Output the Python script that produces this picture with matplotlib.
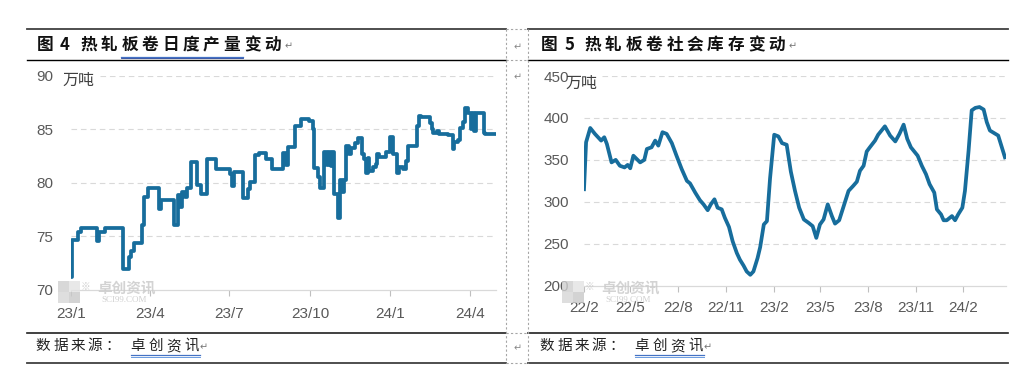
import matplotlib
matplotlib.use("Agg")
import matplotlib.pyplot as plt
from matplotlib.lines import Line2D
from matplotlib.patches import Rectangle
import pandas as pd

W, H = 1025, 392
CJK = ["Noto Sans CJK SC", "DejaVu Sans"]
LINE_COLOR = "#176d9c"
GRID_COLOR = "#d9d9d9"
TEXT_GRAY = "#595959"

# 图4: daily output (万吨), days counted from 2023-01-01
prod_start = "2023-01-01"
prod_day = [0, 1, 8, 11, 30, 32, 39, 59, 66, 69, 72, 81, 83, 88, 101, 103, 118, 122, 125, 127,
            130, 133, 137, 144, 149, 155, 166, 182, 184, 186, 196, 202, 205, 210, 215, 223, 230,
            242, 246, 248, 256, 263, 272, 276, 278, 282, 285, 289, 293, 295, 297, 299, 301, 305,
            307, 310, 312, 314, 318, 320, 324, 328, 333, 335, 337, 339, 341, 345, 349, 350, 352,
            360, 364, 368, 373, 375, 379, 383, 385, 395, 398, 400, 410, 412, 414, 418, 420, 431,
            437, 438, 442, 444, 448, 450, 454, 457, 459, 461, 463, 472, 473, 485]
prod_val = [71.2, 74.7, 75.4, 75.8, 74.6, 75.4, 75.8, 72.0, 73.1, 73.6, 74.4, 76.1, 78.7, 79.5,
            77.6, 78.4, 76.1, 78.9, 77.8, 79.2, 78.7, 79.5, 82.0, 79.8, 79.0, 82.2, 81.3, 80.8,
            79.7, 81.0, 78.6, 79.4, 80.1, 82.6, 82.8, 82.2, 81.3, 82.8, 81.7, 83.4, 85.3, 86.0,
            85.8, 85.0, 81.4, 80.6, 79.5, 82.9, 81.7, 82.9, 81.6, 82.9, 79.0, 76.7, 80.3, 79.2,
            80.3, 83.5, 82.7, 83.3, 83.7, 84.2, 82.7, 82.2, 80.9, 82.3, 81.1, 81.5, 81.8, 82.7,
            82.4, 82.9, 84.3, 82.7, 80.9, 81.5, 81.3, 82.1, 83.5, 85.3, 86.3, 86.2, 85.6, 85.0,
            84.7, 84.9, 84.6, 84.5, 83.2, 83.8, 84.0, 85.1, 85.7, 87.0, 86.5, 85.0, 86.5, 84.9,
            86.5, 84.7, 84.6, 84.6]
prod_ticks = ["2023-01-01", "2023-04-01", "2023-07-01", "2023-10-01", "2024-01-01", "2024-04-01"]
prod_tick_labels = ["23/1", "23/4", "23/7", "23/10", "24/1", "24/4"]
prod_yticks = [70, 75, 80, 85, 90]

# 图5: weekly social inventory (万吨), days counted from 2022-02-01
stock_start = "2022-02-01"
stock_day = [0, 4, 12, 21, 33, 39, 44, 53, 61, 69, 78, 84, 89, 95, 108, 116, 121, 130, 137, 143,
             151, 159, 169, 178, 188, 198, 204, 214, 223, 230, 238, 244, 251, 257, 265, 271, 279,
             286, 294, 300, 307, 313, 320, 326, 334, 339, 346, 352, 358, 366, 374, 381, 390, 398,
             406, 414, 423, 432, 440, 447, 454, 461, 469, 477, 483, 491, 509, 518, 525, 531, 538,
             544, 550, 560, 566, 579, 589, 599, 607, 615, 622, 629, 642, 650, 658, 665, 674, 679,
             687, 692, 698, 708, 714, 720, 728, 733, 740, 746, 753, 761, 769, 775, 781, 789, 797,
             804, 810]
stock_val = [315, 371, 388, 381, 373, 377, 369, 347, 350, 343, 341, 344, 340, 355, 347, 350, 363,
             365, 373, 367, 383, 381, 370, 355, 339, 325, 322, 311, 302, 297, 290, 297, 303, 293,
             291, 281, 270, 253, 239, 231, 224, 217, 213, 217, 233, 246, 273, 277, 328, 380, 378,
             370, 368, 336, 313, 293, 279, 275, 271, 257, 273, 279, 297, 283, 274, 278, 313, 319,
             324, 337, 343, 360, 365, 373, 380, 390, 379, 372, 381, 392, 375, 365, 355, 343, 333,
             321, 311, 291, 285, 278, 278, 283, 278, 285, 293, 313, 361, 409, 412, 413, 410, 395,
             385, 382, 379, 365, 353]
stock_ticks = ["2022-02-01", "2022-05-01", "2022-08-01", "2022-11-01", "2023-02-01",
               "2023-05-01", "2023-08-01", "2023-11-01", "2024-02-01"]
stock_tick_labels = ["22/2", "22/5", "22/8", "22/11", "23/2", "23/5", "23/8", "23/11", "24/2"]
stock_yticks = [200, 250, 300, 350, 400, 450]

titles = ["图 4 热轧板卷日度产量变动", "图 5 热轧板卷社会库存变动"]
source_label = "数据来源："
source_name = "卓创资讯"
unit_label = "万吨"


def fx(x):
    return x / W


def fy(y):
    return 1 - y / H


def hline(fig, y, x0, x1, color="black", lw=1.0, ls="-"):
    fig.add_artist(Line2D([fx(x0), fx(x1)], [fy(y), fy(y)], color=color, lw=lw, ls=ls))


def vline(fig, x, y0, y1, color="#a6a6a6", lw=0.8, ls=(0, (2, 2))):
    fig.add_artist(Line2D([fx(x), fx(x)], [fy(y0), fy(y1)], color=color, lw=lw, ls=ls))


def put_chars(fig, chars, xs, y, **kw):
    for ch, x in zip(chars, xs):
        fig.text(fx(x), fy(y), ch, ha="center", va="center", family=CJK, **kw)


def watermark(fig, dx):
    for (x0, y0, c) in [(58, 281, "#cfcfcf"), (69, 281, "#e3e3e3"), (58, 292, "#d6d6d6"), (69, 292, "#c9c9c9")]:
        fig.add_artist(Rectangle((fx(x0 + dx), fy(y0 + 11)), 11 / W, 11 / H,
                                 transform=fig.transFigure, color=c, lw=0, alpha=0.8))
    fig.text(fx(85 + dx), fy(287), "※", ha="center", va="center", family=CJK, fontsize=7, color="#d0d0d0")
    fig.text(fx(127 + dx), fy(288), "卓创资讯", ha="center", va="center", family=CJK,
             fontsize=10.5, fontweight="bold", color="#cccccc", alpha=0.85)
    fig.text(fx(124 + dx), fy(299.5), "SCI99.COM", ha="center", va="center",
             family="Liberation Serif", fontsize=6.5, color="#d0d0d0")


def setup_axes(ax, start, xmax_days, ticks, tick_labels, yticks, first_grid_from, ypad, xpad):
    base = pd.Timestamp(start)
    ax.set_xlim(base, base + pd.Timedelta(days=xmax_days))
    ax.set_ylim(yticks[0], yticks[-1])
    ax.set_yticks(yticks)
    ax.set_xticks(pd.to_datetime(ticks))
    ax.set_xticklabels(tick_labels)
    for v in yticks[1:]:
        xmin = first_grid_from if v == yticks[-1] else 0.0
        ax.axhline(v, xmin=xmin, xmax=1.0, color=GRID_COLOR, lw=0.8, ls=(0, (5, 3.5)), zorder=0.5)
    for side in ["left", "right", "top"]:
        ax.spines[side].set_visible(False)
    ax.spines["bottom"].set_color(GRID_COLOR)
    ax.spines["bottom"].set_linewidth(0.9)
    ax.tick_params(axis="y", length=0, labelcolor=TEXT_GRAY, labelsize=11, pad=ypad)
    ax.tick_params(axis="x", length=4, width=0.8, color="#bfbfbf", labelcolor=TEXT_GRAY,
                   labelsize=11, pad=xpad)
    for lab in ax.get_xticklabels() + ax.get_yticklabels():
        lab.set_family("Liberation Sans")


fig = plt.figure(figsize=(W / 100, H / 100), dpi=100)
fig.patch.set_facecolor("white")

# left chart
ax1 = fig.add_axes([fx(71), fy(290), (496 - 71) / W, (290 - 76) / H])
prod_dates = pd.Timestamp(prod_start) + pd.to_timedelta(prod_day, unit="D")
ax1.plot(prod_dates, prod_val, color=LINE_COLOR, lw=2.7, drawstyle="steps-post",
         solid_joinstyle="round", zorder=3)
setup_axes(ax1, prod_start, 485.7, prod_ticks, prod_tick_labels, prod_yticks, 0.068, 13, 8)

# right chart
ax2 = fig.add_axes([fx(584), fy(285.7), (1006 - 584) / W, (285.7 - 76) / H])
stock_dates = pd.Timestamp(stock_start) + pd.to_timedelta(stock_day, unit="D")
ax2.plot(stock_dates, stock_val, color=LINE_COLOR, lw=2.7, solid_joinstyle="round", zorder=3)
setup_axes(ax2, stock_start, 812, stock_ticks, stock_tick_labels, stock_yticks, 0.043, 11, 7)

# unit labels
fig.text(fx(78.5), fy(80), unit_label, ha="center", va="center", family=CJK, fontsize=11.5, color="#404040")
fig.text(fx(581), fy(83), unit_label, ha="center", va="center", family=CJK, fontsize=11.5, color="#404040")

# watermarks
watermark(fig, 0)
watermark(fig, 504)

# table rules
for x0, x1 in [(27, 506), (528, 1008)]:
    hline(fig, 29, x0, x1, color="#404040", lw=1.3)
    hline(fig, 59.5, x0, x1, color="black", lw=1.0)
    hline(fig, 332.5, x0, x1, color="#202020", lw=1.2)
    hline(fig, 362.5, x0, x1, color="#404040", lw=1.3)
for y in [29, 59.5, 332.5, 362.5]:
    hline(fig, y, 506, 528, color="#a6a6a6", lw=0.8, ls=(0, (2, 2)))
vline(fig, 506, 29, 363)
vline(fig, 528, 29, 363)

# titles and sources
for dx, title in zip([0, 504], titles):
    chars = title.replace(" ", "")
    xs = [45 + dx, 65 + dx] + [89 + dx + 20.4 * i for i in range(len(chars) - 2)]
    put_chars(fig, chars, xs, 45, fontsize=12, fontweight="bold", color="#111111")
    fig.text(fx(xs[-1] + 16), fy(46), "↵", ha="center", va="center", family=CJK, fontsize=7, color="#777777")

    sx = [43 + dx + 17.4 * i for i in range(len(source_label))]
    put_chars(fig, source_label, sx, 346, fontsize=10.5, color="#222222")
    nx = [137.8 + dx + 18 * i for i in range(len(source_name))]
    put_chars(fig, source_name, nx, 346, fontsize=10.5, color="#222222")
    fig.text(fx(nx[-1] + 12), fy(347), "↵", ha="center", va="center", family=CJK, fontsize=7, color="#777777")
    hline(fig, 355.3, nx[0] - 7, nx[-1] + 8, color="#4472c4", lw=0.9)
    hline(fig, 357.3, nx[0] - 7, nx[-1] + 8, color="#6a9be0", lw=0.7)

# spell-check style underline under part of the first title
hline(fig, 56.5, 121, 243, color="#4472c4", lw=0.9)
hline(fig, 58.0, 121, 243, color="#1f3f99", lw=0.6)

# paragraph marks in the gap column
for y in [47, 77, 348]:
    fig.text(fx(518), fy(y), "↵", ha="center", va="center", family=CJK, fontsize=7, color="#888888")

fig.savefig("out.png", dpi=100, facecolor="white")
